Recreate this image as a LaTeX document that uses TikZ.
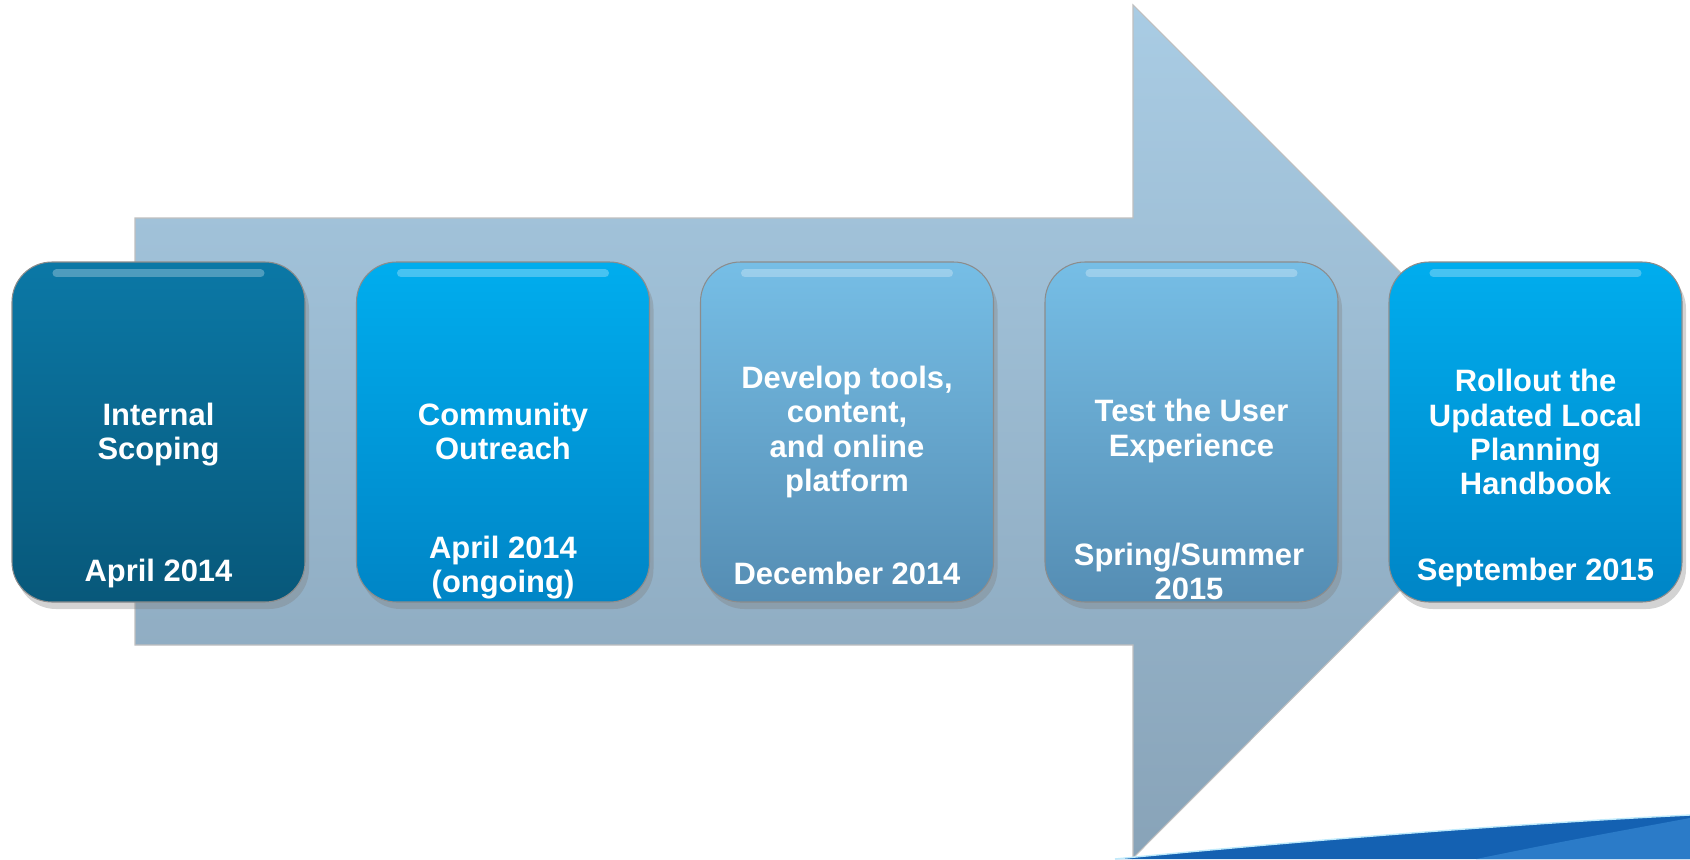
\documentclass[tikz,border=0pt]{standalone}
\usepackage{fontspec}
\setmainfont{Liberation Sans}
\usetikzlibrary{positioning,calc,shadows}
\tikzset{font=\bfseries\fontsize{8.8}{9.7}\selectfont}

\definecolor{scopetop}{HTML}{0B78A6}
\definecolor{scopebot}{HTML}{08587A}
\definecolor{cyantop}{HTML}{00ADEE}
\definecolor{cyanbot}{HTML}{0085C6}
\definecolor{paletop}{HTML}{76BEE6}
\definecolor{palebot}{HTML}{558DB3}
\definecolor{arrowtop}{HTML}{A9CCE4}
\definecolor{arrowbot}{HTML}{88A3B8}
\definecolor{swoopdark}{HTML}{1461B2}
\definecolor{swooplight}{HTML}{2B7BC8}

\tikzset{
	stage/.style={rounded corners=4mm, minimum width=29.3mm, minimum height=34mm,
		draw=black!45, line width=0.3pt,
		drop shadow={opacity=0.35, shadow xshift=0.4mm, shadow yshift=-0.7mm}},
	darkstage/.style={stage, top color=scopetop, bottom color=scopebot},
	cyanstage/.style={stage, top color=cyantop, bottom color=cyanbot},
	palestage/.style={stage, top color=paletop, bottom color=palebot},
	gloss/.style={white, opacity=0.28, line width=0.8mm, line cap=round}
}

\begin{document}
\begin{tikzpicture}[x=0.1mm, y=-0.1mm]
	\useasboundingbox (0,0) rectangle (1690,859);

	\coordinate (tail top) at (135,218);
	\coordinate (head top) at (1133,5);
	\coordinate (tip) at (1559,431);
	\coordinate (head bot) at (1133,858);
	\coordinate (tail bot) at (135,645);
	\draw [draw=black!25, line width=0.3pt, top color=arrowtop, bottom color=arrowbot]
		(tail top) -- (1133,218) -- (head top) -- (tip) -- (head bot) -- (1133,645) -- (tail bot) -- cycle;

	\fill [swoopdark] (1115,859) .. controls (1350,836) and (1550,822) .. (1690,815) -- (1690,859) -- cycle;
	\fill [swooplight] (1476,859) .. controls (1560,842) .. (1690,818) -- (1690,859) -- cycle;
	\draw [cyan!25, line width=0.4pt] (1115,859) .. controls (1350,836) and (1550,822) .. (1690,815);

	\begin{scope}
		\tikzstyle{every node}=[align=center, inner sep=1pt, text=white]
		\node [darkstage] (scope) at (158.5,432) {};
		\node [cyanstage] (outreach) at (503,432) {};
		\node [palestage] (develop) at (847,432) {};
		\node [palestage] (test) at (1191.5,432) {};
		\node [cyanstage] (rollout) at (1535.5,432) {};

		\foreach \s in {scope, outreach, develop, test, rollout} {
			\draw [gloss] ($(\s.north west)+(45,12)$) -- ($(\s.north east)+(-45,12)$);
		}

		\node (scopetitle) at (158.5,435) {Internal\\Scoping};
		\node (scopedate) at (158.5,573) {April 2014};

		\node (outreachtitle) at (503,431) {Community\\Outreach};
		\node (outreachdate) at (503,568) {April 2014\\(ongoing)};

		\node (developtitle) at (847,432) {Develop tools,\\content,\\and online\\platform};
		\node (developdate) at (847,573) {December 2014};

		\node (testtitle) at (1191.5,431) {Test the User\\Experience};
		\node (testdate) at (1189,571) {Spring/Summer\\2015};

		\node (rollouttitle) at (1535.5,432) {Rollout the\\Updated Local\\Planning\\Handbook};
		\node (rolloutdate) at (1535.5,572) {September 2015};
	\end{scope}
\end{tikzpicture}
\end{document}
